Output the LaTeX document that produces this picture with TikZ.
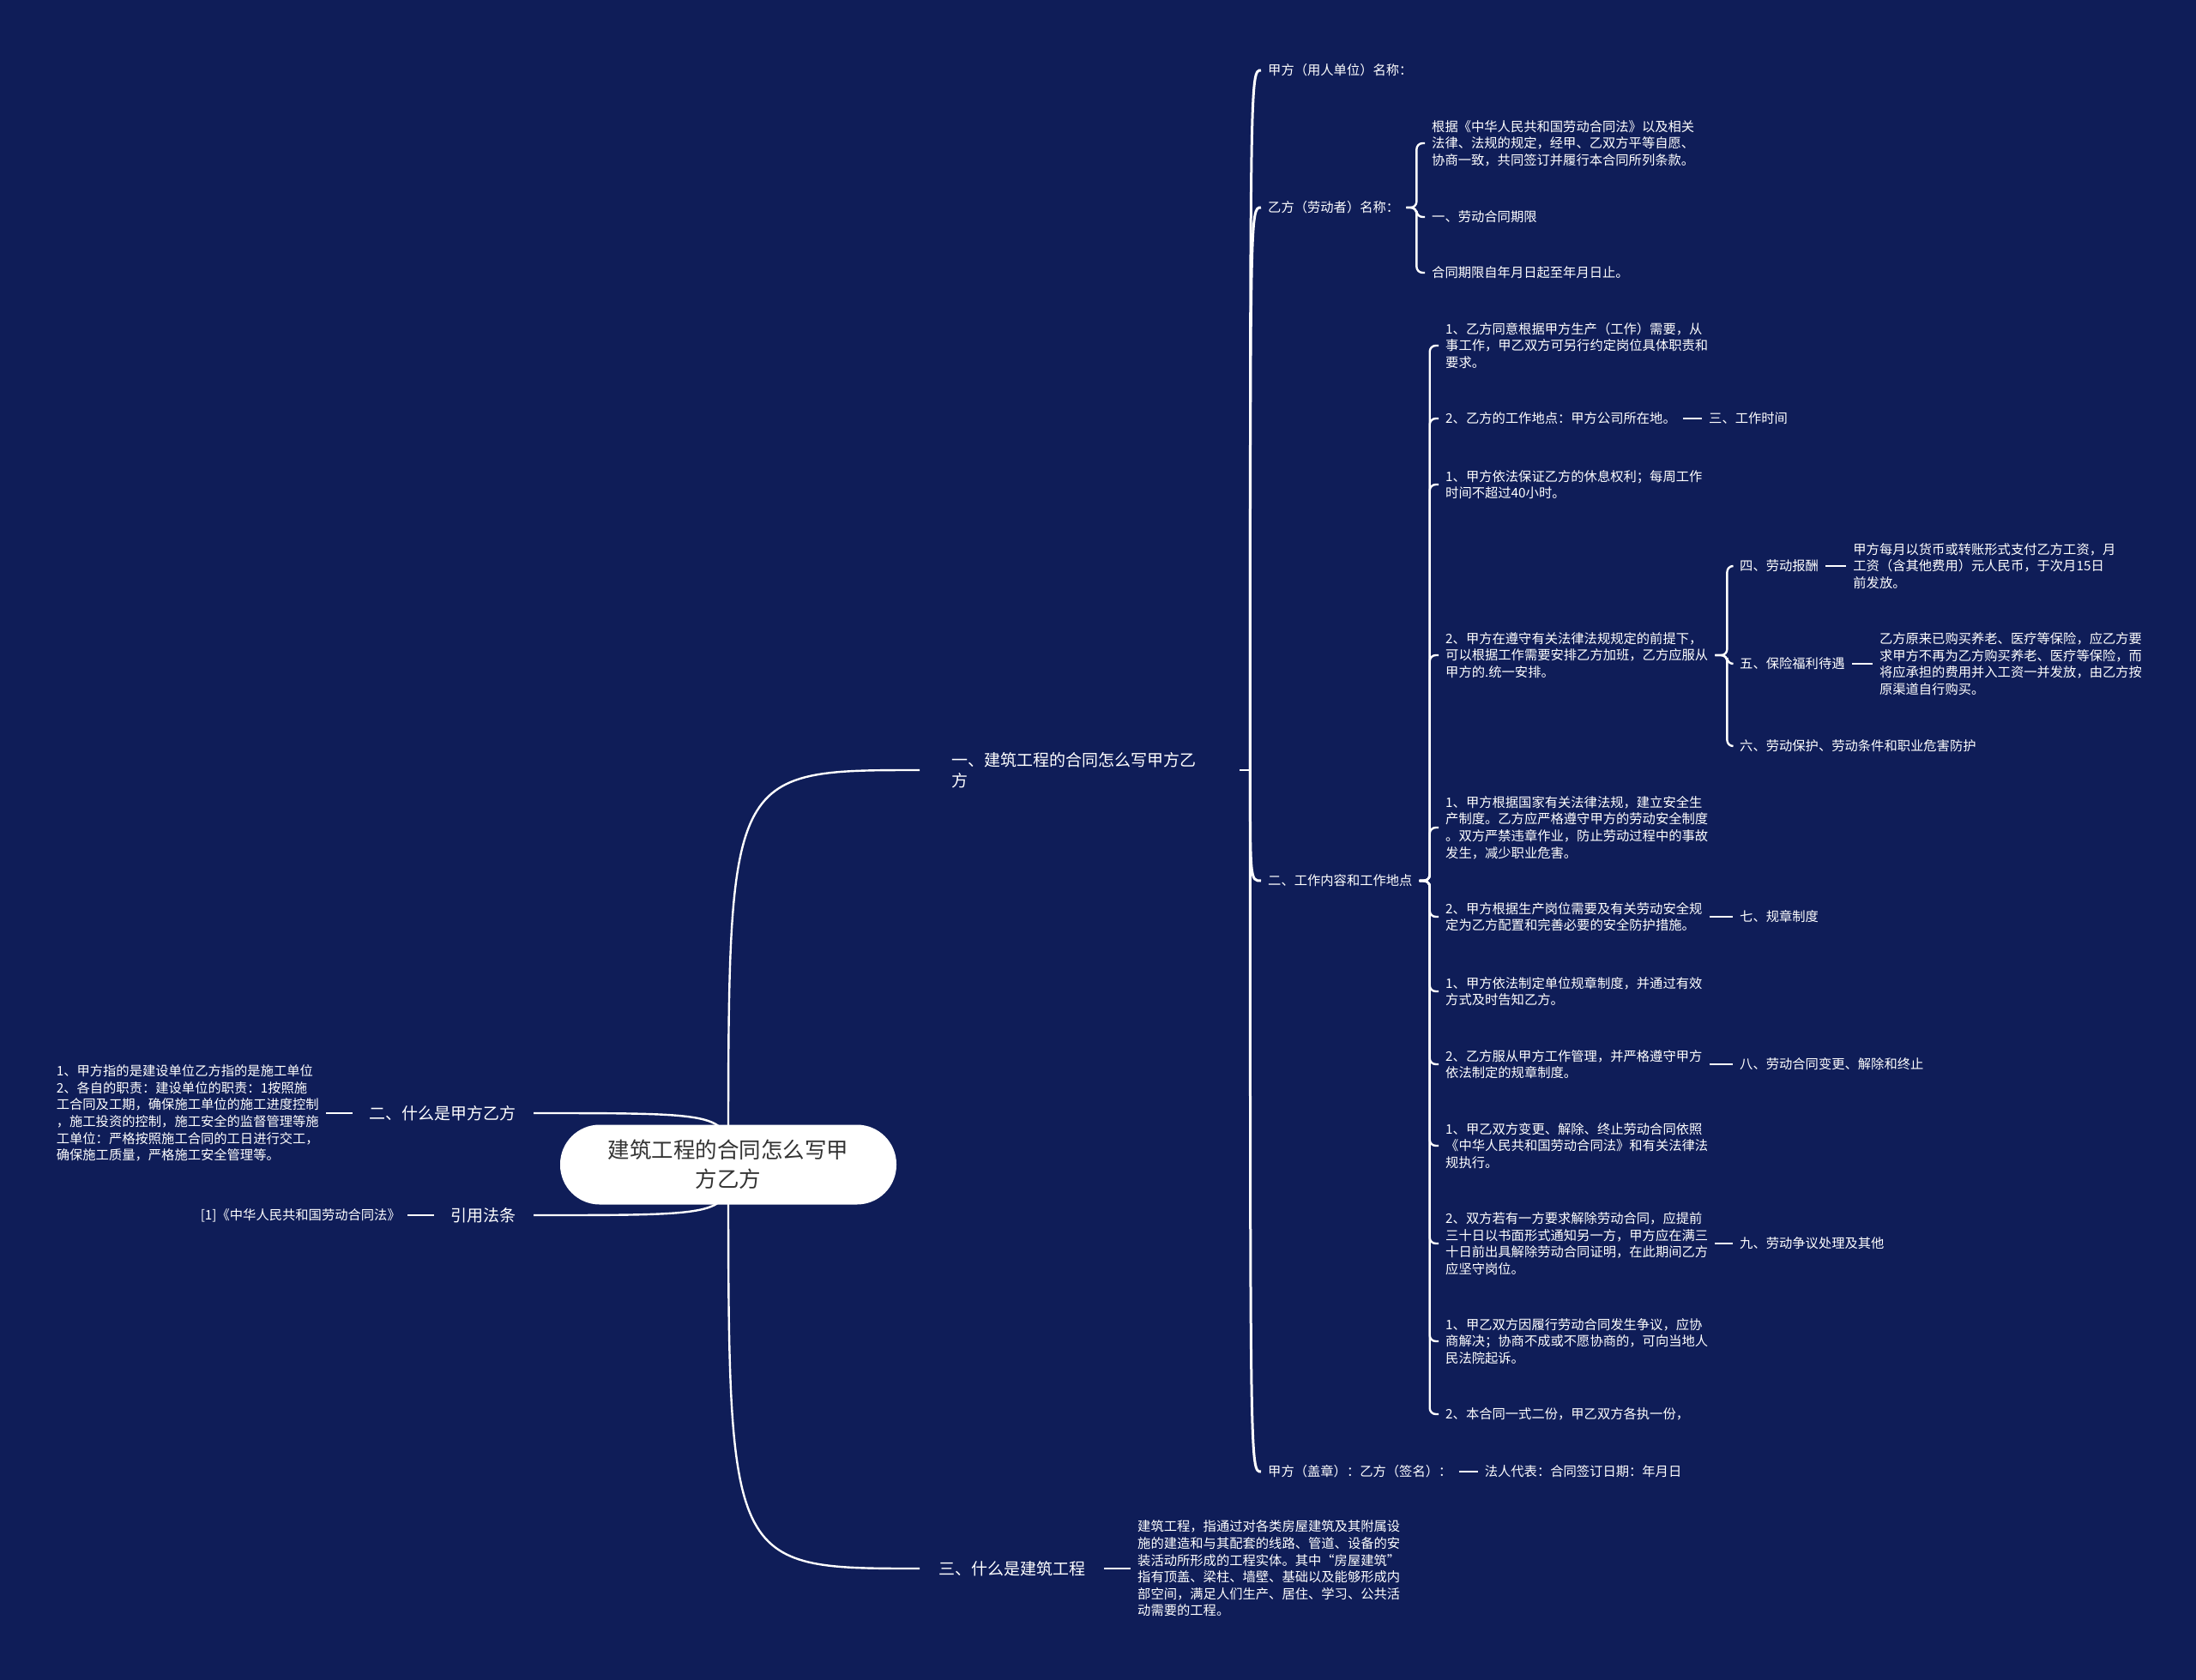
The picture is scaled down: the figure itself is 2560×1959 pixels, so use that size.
\documentclass[tikz,border=0pt]{standalone}
\usepackage{fontspec}
\setmainfont{Noto Sans CJK SC}
\usetikzlibrary{positioning, calc}
\definecolor{bgnavy}{RGB}{15,29,88}
\definecolor{roottext}{RGB}{51,51,51}

\begin{document}
\begin{tikzpicture}[x=1pt, y=-1pt,
  link/.style={draw=white, line width=2.4pt},
  trunk/.style={draw=white, line width=3pt},
  hook/.style={draw=white, line width=2.4pt, rounded corners=7pt},
  rootbox/.style={fill=white, rounded corners=46pt, minimum width=392pt, minimum height=93pt, align=center, text=roottext, font=\fontsize{25.5}{34}\selectfont},
  topic/.style={text=white, align=left, inner xsep=20pt, font=\fontsize{19}{24.5}\selectfont},
  item/.style={text=white, align=left, inner xsep=8pt, inner ysep=2pt, font=\fontsize{15.3}{19.6}\selectfont}
]
  % BACKGROUND
  \fill[bgnavy] (0,0) rectangle (2560,1959);
  \useasboundingbox (0,0) rectangle (2560,1959);
  \coordinate (rc) at (849,1358);

  % LEFT SIDE
  \node[topic, anchor=east] (whoab) at (622,1298) {二、什么是甲方乙方};
  \node[item, anchor=east] (whoabtxt) at (380,1298) {1、甲方指的是建设单位乙方指的是施工单位\\2、各自的职责：建设单位的职责：1按照施\\工合同及工期，确保施工单位的施工进度控制\\，施工投资的控制，施工安全的监督管理等施\\工单位：严格按照施工合同的工日进行交工，\\确保施工质量，严格施工安全管理等。};
  \node[topic, anchor=east] (lawref) at (622,1417) {引用法条};
  \node[item, anchor=east] (lawreftxt) at (475,1417) {[1]《中华人民共和国劳动合同法》};

  % BRANCH ONE
  \node[topic, anchor=west, text width=316pt] (howto) at (1089,898) {一、建筑工程的合同怎么写甲方乙\\方};
  \coordinate (howtoj) at ([xshift=12pt]howto.east);

  \node[item, anchor=west] (partya) at (1470,82) {甲方（用人单位）名称：};
  \node[item, anchor=west] (partyb) at (1470,242) {乙方（劳动者）名称：};
  \node[item, anchor=west] (workscope) at (1470,1027) {二、工作内容和工作地点};
  \node[item, anchor=west] (signoff) at (1470,1716) {甲方（盖章）：乙方（签名）：};

  % party b
  \node[item, anchor=west] (pbbasis) at (1661,167) {根据《中华人民共和国劳动合同法》以及相关\\法律、法规的规定，经甲、乙双方平等自愿、\\协商一致，共同签订并履行本合同所列条款。};
  \node[item, anchor=west] (pbterm) at (1661,253) {一、劳动合同期限};
  \node[item, anchor=west] (pbperiod) at (1661,318) {合同期限自年月日起至年月日止。};

  % work scope
  \node[item, anchor=west] (duty1) at (1677,403) {1、乙方同意根据甲方生产（工作）需要，从\\事工作，甲乙双方可另行约定岗位具体职责和\\要求。};
  \node[item, anchor=west] (place2) at (1677,488) {2、乙方的工作地点：甲方公司所在地。};
  \node[item, anchor=west] (rest1) at (1677,565) {1、甲方依法保证乙方的休息权利；每周工作\\时间不超过40小时。};
  \node[item, anchor=west] (overtime2) at (1677,764) {2、甲方在遵守有关法律法规规定的前提下，\\可以根据工作需要安排乙方加班，乙方应服从\\甲方的.统一安排。};
  \node[item, anchor=west] (safety1) at (1677,965) {1、甲方根据国家有关法律法规，建立安全生\\产制度。乙方应严格遵守甲方的劳动安全制度\\。双方严禁违章作业，防止劳动过程中的事故\\发生，减少职业危害。};
  \node[item, anchor=west] (safety2) at (1677,1069) {2、甲方根据生产岗位需要及有关劳动安全规\\定为乙方配置和完善必要的安全防护措施。};
  \node[item, anchor=west] (rules1) at (1677,1156) {1、甲方依法制定单位规章制度，并通过有效\\方式及时告知乙方。};
  \node[item, anchor=west] (rules2) at (1677,1241) {2、乙方服从甲方工作管理，并严格遵守甲方\\依法制定的规章制度。};
  \node[item, anchor=west] (change1) at (1677,1336) {1、甲乙双方变更、解除、终止劳动合同依照\\《中华人民共和国劳动合同法》和有关法律法\\规执行。};
  \node[item, anchor=west] (change2) at (1677,1450) {2、双方若有一方要求解除劳动合同，应提前\\三十日以书面形式通知另一方，甲方应在满三\\十日前出具解除劳动合同证明，在此期间乙方\\应坚守岗位。};
  \node[item, anchor=west] (dispute1) at (1677,1564) {1、甲乙双方因履行劳动合同发生争议，应协\\商解决；协商不成或不愿协商的，可向当地人\\民法院起诉。};
  \node[item, anchor=west] (copies2) at (1677,1649) {2、本合同一式二份，甲乙双方各执一份，};

  % headings on the far right
  \node[item, anchor=west] (worktime) at (1984,488) {三、工作时间};
  \node[item, anchor=west] (pay) at (2020,660) {四、劳动报酬};
  \node[item, right=24pt of pay] (paytxt) {甲方每月以货币或转账形式支付乙方工资，月\\工资（含其他费用）元人民币，于次月15日\\前发放。};
  \node[item, anchor=west] (insure) at (2020,774) {五、保险福利待遇};
  \node[item, right=24pt of insure] (insuretxt) {乙方原来已购买养老、医疗等保险，应乙方要\\求甲方不再为乙方购买养老、医疗等保险，而\\将应承担的费用并入工资一并发放，由乙方按\\原渠道自行购买。};
  \node[item, anchor=west] (protect) at (2020,870) {六、劳动保护、劳动条件和职业危害防护};
  \node[item, anchor=west] (rulesys) at (2020,1069) {七、规章制度};
  \node[item, anchor=west] (alter) at (2020,1241) {八、劳动合同变更、解除和终止};
  \node[item, anchor=west] (disputes) at (2020,1450) {九、劳动争议处理及其他};
  \node[item, right=22pt of signoff] (sign) {法人代表：合同签订日期：年月日};

  % BRANCH THREE
  \node[topic, anchor=west, inner xsep=22pt] (whatis) at (1072,1829) {三、什么是建筑工程};
  \node[item, anchor=west] (whatistxt) at (1318,1829) {建筑工程，指通过对各类房屋建筑及其附属设\\施的建造和与其配套的线路、管道、设备的安\\装活动所形成的工程实体。其中“房屋建筑”\\指有顶盖、梁柱、墙壁、基础以及能够形成内\\部空间，满足人们生产、居住、学习、公共活\\动需要的工程。};

  % CONNECTORS
  \draw[link] (rc) .. controls (rc |- whoab.east) .. (whoab.east);
  \draw[link] (rc) .. controls (rc |- lawref.east) .. (lawref.east);
  \draw[link] (rc) .. controls (rc |- howto.west) .. ([xshift=-17pt]howto.west);
  \draw[link] (rc) .. controls (rc |- whatis.west) .. (whatis.west);
  \draw[link] (whoabtxt.east) -- (whoab.west);
  \draw[link] (lawreftxt.east) -- (lawref.west);
  \draw[link] (whatis.east) -- (whatistxt.west);

  \draw[link] (howto.east) -- (howtoj);
  \draw[trunk] (howtoj) .. controls (howtoj |- partya.west) .. (partya.west);
  \draw[trunk] (howtoj) .. controls (howtoj |- partyb.west) .. (partyb.west);
  \draw[trunk] (howtoj) .. controls (howtoj |- workscope.west) .. (workscope.west);
  \draw[trunk] (howtoj) .. controls (howtoj |- signoff.west) .. (signoff.west);

  \coordinate (partybj) at ([xshift=12pt]partyb.east);
  \draw[hook] (partyb.east) -- (partybj) |- (pbbasis.west);
  \draw[hook] (partyb.east) -- (partybj) |- (pbterm.west);
  \draw[hook] (partyb.east) -- (partybj) |- (pbperiod.west);

  \coordinate (workj) at ([xshift=12pt]workscope.east);
  \draw[hook] (workscope.east) -- (workj) |- (duty1.west);
  \draw[hook] (workscope.east) -- (workj) |- (place2.west);
  \draw[hook] (workscope.east) -- (workj) |- (rest1.west);
  \draw[hook] (workscope.east) -- (workj) |- (overtime2.west);
  \draw[hook] (workscope.east) -- (workj) |- (safety1.west);
  \draw[hook] (workscope.east) -- (workj) |- (safety2.west);
  \draw[hook] (workscope.east) -- (workj) |- (rules1.west);
  \draw[hook] (workscope.east) -- (workj) |- (rules2.west);
  \draw[hook] (workscope.east) -- (workj) |- (change1.west);
  \draw[hook] (workscope.east) -- (workj) |- (change2.west);
  \draw[hook] (workscope.east) -- (workj) |- (dispute1.west);
  \draw[hook] (workscope.east) -- (workj) |- (copies2.west);

  \coordinate (overj) at ([xshift=14pt]overtime2.east);
  \draw[hook] (overtime2.east) -- (overj) |- (pay.west);
  \draw[hook] (overtime2.east) -- (overj) |- (insure.west);
  \draw[hook] (overtime2.east) -- (overj) |- (protect.west);

  \draw[link] (place2.east) -- (worktime.west);
  \draw[link] (pay.east) -- (paytxt.west);
  \draw[link] (insure.east) -- (insuretxt.west);
  \draw[link] (safety2.east) -- (rulesys.west);
  \draw[link] (rules2.east) -- (alter.west);
  \draw[link] (change2.east) -- (disputes.west);
  \draw[link] (signoff.east) -- (sign.west);

  % ROOT
  \node[rootbox] (root) at (rc) {建筑工程的合同怎么写甲\\方乙方};
\end{tikzpicture}
\end{document}
